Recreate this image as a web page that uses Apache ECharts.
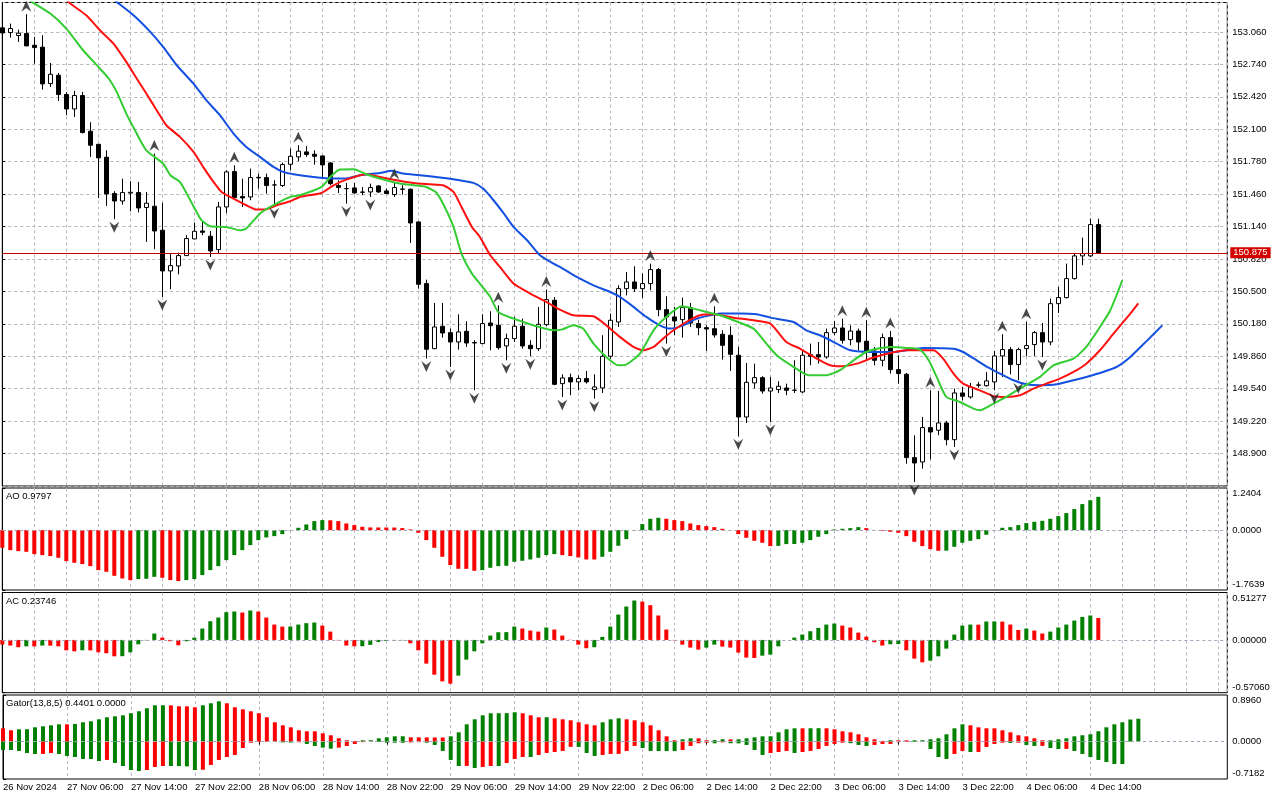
<!DOCTYPE html>
<html><head><meta charset="utf-8">
<script src="https://cdn.jsdelivr.net/npm/echarts/dist/echarts.min.js"></script>
<style>html,body{margin:0;padding:0;background:#fff;}#c{width:1280px;height:800px;}</style>
</head><body><div id="c"></div>
<script>
// ---------- DATA (hourly bars, index 0 = 26 Nov 22:00) ----------
const tickLabels = ['26 Nov 2024','27 Nov 06:00','27 Nov 14:00','27 Nov 22:00','28 Nov 06:00','28 Nov 14:00','28 Nov 22:00','29 Nov 06:00','29 Nov 14:00','29 Nov 22:00','2 Dec 06:00','2 Dec 14:00','2 Dec 22:00','3 Dec 06:00','3 Dec 14:00','3 Dec 22:00','4 Dec 06:00','4 Dec 14:00'];

const opens = [153.100,153.053,153.024,153.044,152.928,152.909,152.550,152.632,152.442,152.300,
152.432,152.080,151.951,151.823,151.465,151.392,151.470,151.475,151.327,151.340,
151.103,150.702,150.751,150.853,151.018,151.096,151.044,150.912,151.333,151.682,
151.435,151.432,151.620,151.623,151.550,151.544,151.754,151.827,151.876,151.853,
151.836,151.767,151.544,151.514,151.521,151.480,151.481,151.540,151.491,151.455,
151.510,151.508,151.185,150.577,149.935,150.156,150.093,150.001,150.106,149.995,
149.985,150.188,150.165,149.962,150.034,150.156,149.968,149.935,150.172,150.412,
149.590,149.649,149.607,149.640,149.531,149.547,149.860,150.198,150.527,150.593,
150.527,150.577,150.715,150.320,150.248,150.221,150.340,150.182,150.142,150.132,
150.077,150.067,149.870,149.261,149.597,149.649,149.517,149.531,149.547,149.525,
149.508,149.876,149.876,149.853,150.093,150.139,150.024,150.109,150.008,149.912,
149.820,150.044,149.728,149.682,148.860,148.817,149.156,149.130,149.202,149.037,
149.498,149.458,149.574,149.570,149.607,149.863,149.926,149.778,149.935,149.975,
150.093,150.001,150.379,150.439,150.626,150.850,150.850,151.159];
const closes = [153.050,153.093,153.047,152.922,152.905,152.547,152.642,152.442,152.300,152.432,
152.067,151.942,151.817,151.461,151.392,151.475,151.478,151.323,151.370,151.096,
150.702,150.754,150.853,151.021,151.093,151.083,150.899,151.333,151.679,151.425,
151.422,151.623,151.625,151.544,151.550,151.751,151.833,151.883,151.850,151.833,
151.748,151.563,151.524,151.514,151.471,151.478,151.524,151.481,151.465,151.524,
151.508,151.175,150.570,149.929,150.149,150.090,150.001,150.100,149.991,149.991,
150.182,150.162,149.945,150.034,150.156,149.962,149.935,150.175,150.419,149.583,
149.646,149.607,149.640,149.607,149.557,149.860,150.215,150.527,150.593,150.527,
150.577,150.715,150.320,150.248,150.208,150.340,150.188,150.142,150.129,150.070,
149.968,149.879,149.261,149.603,149.649,149.517,149.547,149.564,149.524,149.524,
149.870,149.860,149.853,150.093,150.139,150.017,150.109,150.001,149.912,149.820,
150.044,149.728,149.689,148.860,148.807,149.156,149.113,149.202,149.037,149.498,
149.465,149.557,149.577,149.617,149.863,149.926,149.778,149.926,149.965,150.093,
150.001,150.379,150.439,150.626,150.850,150.873,151.159,150.875];
const lows = [153.030,153.004,152.961,152.919,152.748,152.491,152.517,152.379,152.238,152.221,
152.057,151.827,151.422,151.343,151.212,151.356,151.290,151.280,150.988,150.916,
150.445,150.521,150.668,150.850,151.015,151.054,150.840,150.873,151.274,151.422,
151.333,151.399,151.514,151.465,151.349,151.530,151.695,151.784,151.827,151.751,
151.629,151.547,151.471,151.366,151.465,151.448,151.430,151.471,151.462,151.432,
151.455,150.978,150.527,149.837,149.930,150.044,149.755,149.926,149.952,149.524,
149.978,149.919,149.926,149.820,150.001,149.935,149.860,149.912,150.156,149.574,
149.458,149.475,149.524,149.590,149.442,149.498,149.837,150.149,150.461,150.494,
150.435,150.511,150.254,149.985,150.067,150.044,150.149,150.067,149.912,150.044,
149.827,149.715,149.070,149.202,149.541,149.491,149.212,149.498,149.475,149.498,
149.498,149.771,149.787,149.837,150.067,149.985,149.968,149.919,149.820,149.771,
149.761,149.689,149.590,148.800,148.620,148.751,148.843,149.080,148.981,148.965,
149.425,149.442,149.550,149.560,149.524,149.656,149.682,149.623,149.860,149.860,
149.853,149.968,150.287,150.429,150.616,150.758,150.840,150.875];
const highs = [153.120,153.142,153.083,153.234,153.011,153.027,152.754,152.655,152.465,152.478,
152.468,152.169,151.955,151.892,151.488,151.613,151.586,151.580,151.481,151.860,
151.373,150.873,150.882,151.054,151.179,151.185,151.096,151.383,151.695,151.744,
151.613,151.711,151.662,151.662,151.596,151.771,151.909,151.942,151.935,151.892,
151.843,151.777,151.596,151.570,151.570,151.530,151.563,151.547,151.514,151.580,
151.547,151.514,151.190,150.616,150.386,150.386,150.133,150.274,150.205,150.018,
150.274,150.304,150.363,150.083,150.248,150.231,150.018,150.347,150.518,150.445,
149.682,149.689,149.672,149.715,149.682,150.067,150.281,150.560,150.692,150.748,
150.675,150.774,150.731,150.452,150.347,150.439,150.386,150.221,150.165,150.353,
150.116,150.156,149.952,149.794,149.787,149.663,149.656,149.613,149.590,149.820,
149.926,149.985,150.001,150.133,150.208,150.231,150.165,150.133,150.215,149.952,
150.083,150.109,149.870,149.695,149.080,149.261,149.524,149.518,149.222,149.541,
149.557,149.597,149.607,149.705,149.912,150.077,149.952,149.945,150.200,150.109,
150.188,150.429,150.544,150.774,150.873,151.031,151.218,151.218];

// Alligator lines: [bar index, price]
const jaw = [[12,153.50],[14.3,153.356],[16.4,153.224],[18.5,153.060],[20.1,152.912],[21.8,152.731],[23.9,152.550],[25.5,152.386],[27.2,152.238],[28.9,152.057],[30.5,151.925],[32.2,151.827],[33.9,151.728],[35.1,151.679],[36.4,151.656],[38.9,151.629],[41.4,151.613],[43,151.613],[44.7,151.646],[47.2,151.669],[48.7,151.689],[50.1,151.662],[52.2,151.646],[54.7,151.623],[57.2,151.596],[58.9,151.570],[60.1,151.514],[61.4,151.399],[62.7,151.267],[63.9,151.136],[65.6,151.004],[67.2,150.856],[68.9,150.774],[69.7,150.741],[71.8,150.642],[73.9,150.560],[76,150.494],[77.2,150.445],[78.9,150.347],[80.5,150.248],[82.2,150.165],[83.5,150.133],[85.1,150.165],[86.8,150.231],[88.5,150.264],[89.7,150.281],[92.2,150.281],[94.3,150.274],[96,150.241],[98.9,150.198],[100.5,150.116],[102.2,150.067],[104.3,149.985],[106,149.919],[108.9,149.902],[111.4,149.902],[113,149.919],[115.1,149.942],[118.9,149.935],[120.1,149.902],[121.8,149.820],[123.1,149.755],[124.7,149.689],[126.4,149.623],[128,149.583],[129.7,149.574],[131.8,149.583],[133.9,149.623],[135.5,149.656],[137.6,149.705],[139.3,149.755],[141,149.853],[143,150.007],[145,150.165]];
const teeth = [[7,153.45],[8.5,153.340],[10.5,153.224],[12.2,153.076],[13.9,152.945],[15.5,152.764],[16.8,152.600],[18,152.452],[19.3,152.287],[20.5,152.139],[22.2,152.024],[23.9,151.876],[25.1,151.728],[26.4,151.580],[27.4,151.481],[28.9,151.415],[30.5,151.350],[31.8,151.307],[33,151.310],[34.3,151.350],[36,151.389],[37.2,151.432],[39.9,151.471],[41.4,151.547],[43,151.603],[45.5,151.656],[47.2,151.629],[49.3,151.596],[51.4,151.570],[53.5,151.557],[55.1,151.547],[56.4,151.481],[57.4,151.333],[58.7,151.136],[59.7,151.037],[61,150.856],[62.2,150.741],[63.9,150.577],[66,150.478],[68,150.396],[69.7,150.320],[71.4,150.264],[73.9,150.254],[75.5,150.165],[77.2,150.051],[78.9,149.952],[80.1,149.919],[81.4,149.952],[82.6,150.034],[83.9,150.116],[85.5,150.198],[87.2,150.264],[88.9,150.274],[91.4,150.241],[93.9,150.215],[96,150.182],[98,150.001],[99.7,149.935],[101.8,149.837],[103.5,149.771],[104.7,149.761],[106.8,149.787],[108.9,149.847],[111,149.892],[113,149.919],[116.4,149.919],[117.6,149.837],[118.9,149.689],[120.1,149.590],[122.2,149.524],[123.9,149.465],[125.5,149.458],[127.2,149.475],[128.9,149.541],[130.5,149.590],[132.2,149.639],[133.9,149.705],[135.5,149.787],[137.2,149.919],[138.9,150.083],[141,150.281],[142,150.382]];
const lips = [[2,153.44],[3.7,153.356],[6,153.241],[8,153.093],[10.1,152.879],[12.2,152.698],[13.3,152.600],[14.3,152.468],[15.5,152.254],[16.8,152.057],[18,151.892],[20.1,151.761],[21,151.646],[22.2,151.580],[23.5,151.399],[24.9,151.202],[26,151.143],[28,151.136],[29.7,151.103],[30.5,151.120],[32.2,151.267],[33.9,151.350],[36,151.432],[37.2,151.448],[39.9,151.530],[41,151.629],[42.2,151.702],[43.9,151.705],[45.5,151.656],[47.2,151.613],[49.3,151.570],[51.4,151.547],[53,151.530],[54.3,151.471],[55.3,151.333],[56.4,151.136],[57.4,150.873],[58.7,150.675],[59.7,150.577],[61,150.445],[62,150.297],[63.9,150.231],[65.5,150.188],[66.8,150.155],[68.9,150.116],[70,150.125],[71.4,150.165],[72.6,150.133],[73.9,149.985],[75.5,149.853],[77,149.771],[78,149.778],[79.7,149.886],[81.4,150.116],[83,150.248],[84.9,150.353],[86.4,150.330],[88,150.297],[89.7,150.264],[91.4,150.215],[93.9,150.133],[95.5,149.985],[96.8,149.870],[98.9,149.755],[100.8,149.672],[102.9,149.672],[104.7,149.722],[106.4,149.820],[108,149.902],[109.3,149.935],[111,149.952],[113,149.942],[114.7,149.926],[115.8,149.820],[116.8,149.656],[118,149.459],[119.7,149.409],[121.4,149.343],[122.2,149.327],[123.9,149.393],[125.5,149.459],[127.2,149.541],[129.7,149.656],[131.4,149.771],[133.9,149.837],[135.5,149.952],[137.2,150.149],[138.5,150.314],[140,150.61]];

const fractalUp = [3,19,29,37,49,62,68,81,89,105,108,111,116,125,128];
const fractalDown = [14,20,26,34,43,46,53,56,59,63,66,70,74,83,92,96,114,119,124,127,130];

const ao = [-0.520,-0.589,-0.619,-0.638,-0.707,-0.736,-0.766,-0.815,-0.913,-0.962,
-1.001,-1.060,-1.178,-1.227,-1.345,-1.424,-1.473,-1.443,-1.433,-1.375,
-1.404,-1.473,-1.502,-1.473,-1.443,-1.325,-1.178,-1.060,-0.884,-0.736,
-0.589,-0.442,-0.295,-0.216,-0.177,-0.118,-0.010,0.069,0.167,0.265,
0.295,0.290,0.265,0.196,0.147,0.098,0.079,0.078,0.077,0.075,
0.060,0.020,-0.079,-0.295,-0.520,-0.785,-1.031,-1.139,-1.140,-1.198,
-1.178,-1.109,-1.060,-1.050,-0.933,-0.903,-0.864,-0.815,-0.736,-0.707,
-0.736,-0.766,-0.805,-0.864,-0.865,-0.785,-0.638,-0.461,-0.265,-0.010,
0.177,0.334,0.363,0.334,0.295,0.265,0.196,0.147,0.118,0.088,
0.039,-0.005,-0.118,-0.226,-0.314,-0.373,-0.471,-0.465,-0.412,-0.410,
-0.373,-0.295,-0.196,-0.118,0.020,0.039,0.059,0.088,0.059,0.005,
-0.020,-0.049,-0.079,-0.177,-0.344,-0.471,-0.560,-0.609,-0.605,-0.491,
-0.373,-0.314,-0.265,-0.137,-0.010,0.069,0.088,0.147,0.206,0.245,
0.275,0.334,0.412,0.501,0.619,0.766,0.880,0.9797];
const ac = [-0.050,-0.061,-0.079,-0.069,-0.070,-0.061,-0.062,-0.069,-0.112,-0.123,
-0.112,-0.113,-0.134,-0.144,-0.177,-0.176,-0.134,-0.047,-0.004,0.069,
0.025,-0.014,-0.058,-0.014,0.025,0.123,0.202,0.242,0.300,0.307,
0.296,0.318,0.307,0.242,0.166,0.144,0.145,0.166,0.181,0.188,
0.155,0.090,-0.004,-0.061,-0.069,-0.068,-0.054,-0.022,-0.011,-0.006,
-0.004,-0.036,-0.112,-0.256,-0.376,-0.448,-0.473,-0.386,-0.213,-0.123,
-0.036,0.047,0.083,0.084,0.144,0.123,0.101,0.090,0.134,0.112,
0.047,0.002,-0.051,-0.090,-0.079,0.033,0.144,0.274,0.361,0.426,
0.415,0.376,0.264,0.112,-0.004,-0.051,-0.083,-0.105,-0.083,-0.051,
-0.072,-0.083,-0.137,-0.191,-0.195,-0.170,-0.159,-0.069,0.000,0.025,
0.058,0.094,0.130,0.166,0.177,0.155,0.134,0.079,0.036,-0.025,
-0.061,-0.047,-0.045,-0.112,-0.202,-0.242,-0.224,-0.177,-0.094,0.058,
0.155,0.166,0.165,0.199,0.200,0.198,0.166,0.108,0.123,0.101,
0.069,0.090,0.134,0.166,0.209,0.249,0.264,0.23746];
const gatorUp = [0.256,0.218,0.237,0.238,0.275,0.295,0.314,0.333,0.332,0.340,
0.372,0.391,0.429,0.468,0.487,0.506,0.545,0.583,0.641,0.698,
0.699,0.697,0.679,0.678,0.660,0.698,0.737,0.775,0.737,0.660,
0.621,0.583,0.545,0.468,0.372,0.314,0.275,0.218,0.199,0.198,
0.160,0.122,0.064,0.026,0.013,0.026,0.027,0.064,0.083,0.102,
0.103,0.083,0.082,0.081,0.080,0.079,0.102,0.179,0.333,0.429,
0.506,0.545,0.546,0.547,0.564,0.545,0.506,0.468,0.469,0.448,
0.429,0.410,0.372,0.333,0.314,0.372,0.429,0.448,0.429,0.410,
0.372,0.314,0.218,0.102,0.026,0.045,0.064,0.063,0.026,0.030,
0.045,0.044,0.045,0.064,0.083,0.102,0.103,0.179,0.237,0.256,
0.255,0.257,0.258,0.256,0.237,0.199,0.179,0.141,0.083,0.045,
0.013,0.026,0.025,0.024,0.026,0.027,0.045,0.064,0.141,0.256,
0.333,0.314,0.275,0.256,0.255,0.218,0.179,0.122,0.102,0.064,
0.026,0.027,0.045,0.064,0.102,0.122,0.141,0.199,0.275,0.333,
0.372,0.425,0.4401];
const gatorDown = [0.160,0.161,0.179,0.218,0.237,0.236,0.218,0.237,0.275,0.295,
0.333,0.334,0.372,0.352,0.410,0.468,0.545,0.564,0.545,0.487,
0.468,0.469,0.470,0.475,0.545,0.540,0.448,0.352,0.295,0.256,
0.122,0.020,0.003,0.004,0.006,0.015,0.018,0.012,0.045,0.083,
0.115,0.135,0.115,0.083,0.045,0.010,0.005,0.006,0.020,0.021,
0.022,0.015,0.010,0.020,0.064,0.179,0.352,0.468,0.467,0.506,
0.487,0.468,0.469,0.410,0.333,0.295,0.296,0.256,0.218,0.199,
0.179,0.100,0.102,0.218,0.275,0.256,0.237,0.236,0.179,0.083,
0.122,0.179,0.180,0.181,0.182,0.160,0.083,0.032,0.020,0.032,
0.013,0.032,0.033,0.064,0.160,0.256,0.218,0.199,0.179,0.218,
0.199,0.179,0.141,0.083,0.045,0.020,0.030,0.064,0.083,0.064,
0.045,0.044,0.010,0.005,0.006,0.008,0.141,0.295,0.333,0.237,
0.179,0.199,0.198,0.102,0.045,0.020,0.025,0.020,0.064,0.083,
0.082,0.122,0.141,0.140,0.179,0.237,0.295,0.352,0.391,0.429,
0.430];

// ---------- CHART ----------
const FONT = 'Liberation Sans, Arial, sans-serif';
const FS = 9.5;
const GREEN = '#008000', RED = '#ff0000';
const VGRID = '#bfb2c8', HGRID = '#a9bba9';
const X_MIN = 0, X_MAX = 153.125;
const lastPrice = closes[closes.length - 1];
const labelTicks = tickLabels.map((t, j) => j * 8);

function colorsSigned(vals, first) {
  const out = []; let prev = first;
  for (let i = 0; i < vals.length; i++) {
    let c = prev;
    if (i > 0) { if (vals[i] > vals[i-1]) c = GREEN; else if (vals[i] < vals[i-1]) c = RED; }
    else c = first;
    out.push(c); prev = c;
  }
  return out;
}
function barData(vals, colors, sign) {
  return vals.map((v, i) => ({ value: [i, sign * v], itemStyle: { color: colors[i] } }));
}

const grids = [
  { left: 2.3, right: 52.7, top: 2.5, height: 483.5 },
  { left: 2.3, right: 52.7, top: 488, height: 102 },
  { left: 2.3, right: 52.7, top: 592.5, height: 100.2 },
  { left: 2.3, right: 52.7, top: 695, height: 84 }
].map(g => Object.assign(g, { show: true, borderColor: '#000', borderWidth: 1, backgroundColor: 'transparent' }));

function xAx(i) {
  const ax = {
    type: 'value', gridIndex: i, min: X_MIN, max: X_MAX, interval: 4,
    axisLine: { show: false }, axisTick: { show: false },
    axisLabel: { show: false },
    splitLine: { show: true, lineStyle: { color: VGRID, type: [3, 3], width: 1 } }
  };
  if (i === 3) {
    ax.axisTick = { show: true, customValues: labelTicks, length: 3, lineStyle: { color: '#000' } };
    ax.axisLabel = {
      show: true, align: 'left', margin: 3, color: '#000', fontSize: FS, fontFamily: FONT,
      formatter: v => { const r = Math.round(v); if (Math.abs(v - r) > 1e-6 || r % 8) return ''; const j = r / 8; return j < tickLabels.length ? tickLabels[j] : ''; }
    };
  }
  return ax;
}
function indY(i, min, max, dec) {
  const isEdge = (v, e) => Math.abs(v - e) < 1e-7;
  return {
    type: 'value', gridIndex: i, position: 'right', min: min, max: max, interval: -min,
    axisLine: { show: true, lineStyle: { color: '#000' } },
    axisTick: { show: true, length: 3, customValues: [min, 0, max], lineStyle: { color: '#000' } },
    splitLine: { show: false },
    axisLabel: {
      margin: 5, color: '#000', fontSize: FS, fontFamily: FONT, lineHeight: 11,
      showMinLabel: true, showMaxLabel: true, customValues: [min, 0, max],
      formatter: v => {
        if (isEdge(v, max)) return '\n' + max.toFixed(dec);
        if (isEdge(v, min)) return min.toFixed(dec) + '\n';
        if (isEdge(v, 0)) return (0).toFixed(dec);
        return '';
      }
    }
  };
}
const zeroLine = { silent: true, symbol: 'none', label: { show: false }, lineStyle: { color: '#a4a4bc', type: [3, 3], width: 1 }, data: [{ yAxis: 0 }] };

const upArrow = 'path://M5,0 L10,10 L5,6.5 L0,10 Z';
const downArrow = 'path://M0,0 L5,3.5 L10,0 L5,10 Z';

const option = {
  animation: false,
  backgroundColor: '#fff',
  textStyle: { fontFamily: FONT },
  title: [
    { text: 'AO 0.9797', left: 6, top: 491, padding: 0, textStyle: { fontSize: FS, fontWeight: 'normal', color: '#000', fontFamily: FONT } },
    { text: 'AC 0.23746', left: 6, top: 596, padding: 0, textStyle: { fontSize: FS, fontWeight: 'normal', color: '#000', fontFamily: FONT } },
    { text: 'Gator(13,8,5) 0.4401 0.0000', left: 6, top: 698.5, padding: 0, textStyle: { fontSize: FS, fontWeight: 'normal', color: '#000', fontFamily: FONT } }
  ],
  grid: grids,
  xAxis: [xAx(0), xAx(1), xAx(2), xAx(3)],
  yAxis: [
    {
      type: 'value', gridIndex: 0, position: 'right', min: 148.58, max: 153.35, interval: 0.32,
      axisLine: { show: true, lineStyle: { color: '#000' } },
      axisTick: { show: true, length: 3, lineStyle: { color: '#000' } },
      axisLabel: { showMinLabel: false, showMaxLabel: false, margin: 5, color: '#000', fontSize: FS, fontFamily: FONT, formatter: v => v.toFixed(3) },
      splitLine: { show: true, lineStyle: { color: HGRID, type: [3, 3], width: 1 } }
    },
    indY(1, -1.7639, 1.2404, 4),
    indY(2, -0.5706, 0.51277, 5),
    indY(3, -0.7182, 0.8960, 4)
  ],
  series: [
    {
      type: 'candlestick', xAxisIndex: 0, yAxisIndex: 0, barWidth: 4,
      data: opens.map((o, i) => [i, o, closes[i], lows[i], highs[i]]),
      itemStyle: { color: '#ffffff', color0: '#000000', borderColor: '#000000', borderColor0: '#000000', borderWidth: 1 },
      markLine: {
        silent: true, symbol: 'none', animation: false,
        lineStyle: { color: '#c00000', type: 'solid', width: 1 },
        label: { show: true, position: 'end', distance: 3, formatter: lastPrice.toFixed(3), color: '#fff', backgroundColor: '#d40000', padding: [1, 3, 0, 3], fontSize: FS, fontFamily: FONT },
        data: [{ yAxis: lastPrice }]
      }
    },
    { type: 'line', xAxisIndex: 0, yAxisIndex: 0, data: jaw, showSymbol: false, smooth: 0.2, lineStyle: { color: '#1450e0', width: 2 }, z: 5 },
    { type: 'line', xAxisIndex: 0, yAxisIndex: 0, data: teeth, showSymbol: false, smooth: 0.2, lineStyle: { color: '#ff1010', width: 2 }, z: 5 },
    { type: 'line', xAxisIndex: 0, yAxisIndex: 0, data: lips, showSymbol: false, smooth: 0.2, lineStyle: { color: '#33cc33', width: 2 }, z: 5 },
    { type: 'scatter', xAxisIndex: 0, yAxisIndex: 0, data: fractalUp.map(k => [k, highs[k]]), symbol: upArrow, symbolSize: [10, 11], symbolOffset: [0, -8], itemStyle: { color: '#1c1c1c' }, z: 6 },
    { type: 'scatter', xAxisIndex: 0, yAxisIndex: 0, data: fractalDown.map(k => [k, lows[k]]), symbol: downArrow, symbolSize: [10, 11], symbolOffset: [0, 8], itemStyle: { color: '#1c1c1c' }, z: 6 },
    { type: 'bar', xAxisIndex: 1, yAxisIndex: 1, barWidth: 4, data: barData(ao, colorsSigned(ao, RED), 1), markLine: zeroLine },
    { type: 'bar', xAxisIndex: 2, yAxisIndex: 2, barWidth: 4, data: barData(ac, colorsSigned(ac, RED), 1), markLine: zeroLine },
    { type: 'bar', xAxisIndex: 3, yAxisIndex: 3, barWidth: 4, barGap: '-100%', data: barData(gatorUp, colorsSigned(gatorUp, RED), 1), markLine: zeroLine },
    { type: 'bar', xAxisIndex: 3, yAxisIndex: 3, barWidth: 4, barGap: '-100%', data: barData(gatorDown, colorsSigned(gatorDown, GREEN), -1) }
  ]
};
const chart = echarts.init(document.getElementById('c'), null, { renderer: 'canvas' });
chart.setOption(option);
</script>
</body></html>
